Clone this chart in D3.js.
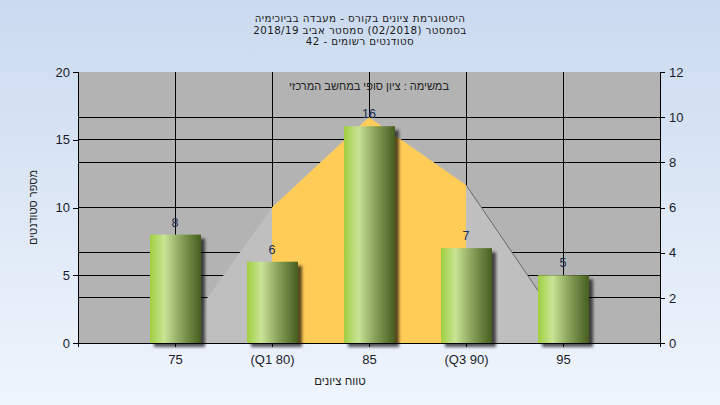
<!DOCTYPE html>
<html><head><meta charset="utf-8">
<script src="https://cdn.jsdelivr.net/npm/d3@7"></script>
<style>html,body{margin:0;padding:0;overflow:hidden;}</style>
</head><body>
<script>
const categories = ["75", "(Q1 80)", "85", "(Q3 90)", "95"];
const counts = [8, 6, 16, 7, 5];
const curveValues = [0, 6, 10, 7, 0.7];
const leftTicks = [0, 5, 10, 15, 20];
const rightTicks = [0, 2, 4, 6, 8, 10, 12];
const titleLines = ["היסטוגרמת ציונים בקורס - מעבדה בביוכימיה", "בסמסטר  (02/2018)  סמסטר אביב 2018/19", "סטודנטים רשומים - 42"];
const subTitle = "במשימה : ציון סופי במחשב המרכזי";
const xTitle = "טווח ציונים";
const yTitle = "מספר סטודנטים";
const q1Index = 1, q3Index = 3;

const W = 720, H = 405;
const L = 78, R = 660, T = 72, B = 343;
const FONT = "'Liberation Sans', Arial, sans-serif";
const HFONT = "'DejaVu Sans', 'Liberation Sans', sans-serif";

const svg = d3.select("body").append("svg").attr("width", W).attr("height", H);
const defs = svg.append("defs");
const bg = defs.append("linearGradient").attr("id","bg").attr("x1",0).attr("y1",0).attr("x2",0).attr("y2",1);
bg.append("stop").attr("offset","0").attr("stop-color","#cbdaef");
bg.append("stop").attr("offset","1").attr("stop-color","#eff5fd");
const bg2 = defs.append("linearGradient").attr("id","bar").attr("x1",0).attr("y1",0).attr("x2",1).attr("y2",0);
[["0","#9fcf40"],["0.28","#c9e495"],["0.62","#879f58"],["1","#465d1f"]].forEach(s=>bg2.append("stop").attr("offset",s[0]).attr("stop-color",s[1]));
const f = defs.append("filter").attr("id","sh").attr("x","-20%").attr("y","-20%").attr("width","150%").attr("height","150%");
f.append("feDropShadow").attr("dx",4).attr("dy",4).attr("stdDeviation",1.8).attr("flood-color","#000").attr("flood-opacity",0.65);

svg.append("rect").attr("width",W).attr("height",H).attr("fill","url(#bg)");

const x = d3.scalePoint().domain(categories).range([L, R]).padding(1);
const yL = d3.scaleLinear().domain([0, 20]).range([B, T]);
const yR = d3.scaleLinear().domain([0, 12]).range([B, T]);

// plot background
svg.append("rect").attr("x",L).attr("y",T).attr("width",R-L).attr("height",B-T).attr("fill","#b3b3b3");

// gridlines
const grid = svg.append("g").attr("stroke","#000").attr("stroke-width",1).attr("shape-rendering","crispEdges");
leftTicks.filter(d=>d>0&&d<20).forEach(d=>grid.append("line").attr("x1",L).attr("x2",R).attr("y1",yL(d)).attr("y2",yL(d)));
rightTicks.filter(d=>d>0&&d<12).forEach(d=>grid.append("line").attr("x1",L).attr("x2",R).attr("y1",yR(d)).attr("y2",yR(d)));
categories.forEach(c=>grid.append("line").attr("x1",x(c)).attr("x2",x(c)).attr("y1",T).attr("y2",B));

// distribution area
const pts = categories.map((c,i)=>({c, v: curveValues[i], i}));
const area = d3.area().x(d=>x(d.c)).y0(B).y1(d=>yR(d.v));
svg.append("path").attr("d", area(pts)).attr("fill","#bfbfbf");
svg.append("path").attr("d", area(pts.slice(q1Index, q3Index+1))).attr("fill","#ffcc57");
svg.append("path").attr("d", d3.line().x(d=>x(d.c)).y(d=>yR(d.v))(pts.slice(q3Index))).attr("fill","none").attr("stroke","#6a6a6a").attr("stroke-width",1);

// bars
const bw = 51;
svg.append("g").selectAll("rect").data(counts).join("rect")
  .attr("x",(d,i)=>x(categories[i])-25).attr("width",bw)
  .attr("y",d=>yL(d)).attr("height",d=>B-yL(d))
  .attr("fill","url(#bar)").attr("filter","url(#sh)");

// value labels
svg.append("g").selectAll("text").data(counts).join("text")
  .attr("x",(d,i)=>x(categories[i])).attr("y",d=>yL(d)-8)
  .attr("text-anchor","middle").attr("font-family",FONT).attr("font-size",12.5).attr("fill","#1d2b4e")
  .text(d=>d);

// axes lines
const ax = svg.append("g").attr("stroke","#000").attr("shape-rendering","crispEdges");
ax.append("line").attr("x1",L).attr("x2",L).attr("y1",T).attr("y2",B+4);
ax.append("line").attr("x1",R).attr("x2",R).attr("y1",T).attr("y2",B+4);
ax.append("line").attr("x1",L).attr("x2",R).attr("y1",B).attr("y2",B);

const leftAxis = d3.axisLeft(yL).tickValues(leftTicks).tickSize(5).tickPadding(3);
const gl = svg.append("g").attr("transform",`translate(${L},0)`).call(leftAxis);
const rightAxis = d3.axisRight(yR).tickValues(rightTicks).tickSize(5).tickPadding(4);
const gr = svg.append("g").attr("transform",`translate(${R},0)`).call(rightAxis);
const bottomAxis = d3.axisBottom(x).tickSize(4).tickPadding(8);
const gb = svg.append("g").attr("transform",`translate(0,${B})`).call(bottomAxis);
[gl,gr,gb].forEach(g=>{
  g.select(".domain").remove();
  g.selectAll("line").attr("stroke","#000").attr("shape-rendering","crispEdges");
  g.selectAll("text").attr("font-family",FONT).attr("font-size",13).attr("fill","#1a1c2c");
});

// titles
const tt = svg.append("g").attr("font-family",HFONT).attr("font-size",10.3).attr("fill","#1a1a1a").attr("text-anchor","middle").attr("letter-spacing",0.4);
titleLines.forEach((t,i)=>tt.append("text").attr("x",360).attr("y",22+i*11.6).attr("direction","rtl").style("direction","rtl").text(t));

svg.append("text").attr("x",(L+R)/2).attr("y",90).attr("text-anchor","middle").attr("direction","rtl").style("direction","rtl")
  .attr("font-family",FONT).attr("font-size",11).attr("fill","#222").text(subTitle);

svg.append("text").attr("x",340).attr("y",385).attr("text-anchor","middle").attr("direction","rtl").style("direction","rtl")
  .attr("font-family",FONT).attr("font-size",11.5).attr("fill","#1e1e1e").text(xTitle);

svg.append("text").attr("transform",`translate(37,${(T+B)/2}) rotate(-90)`).attr("text-anchor","middle").attr("direction","rtl").style("direction","rtl")
  .attr("font-family",FONT).attr("font-size",11).attr("fill","#1e1e1e").text(yTitle);
</script>
</body></html>
